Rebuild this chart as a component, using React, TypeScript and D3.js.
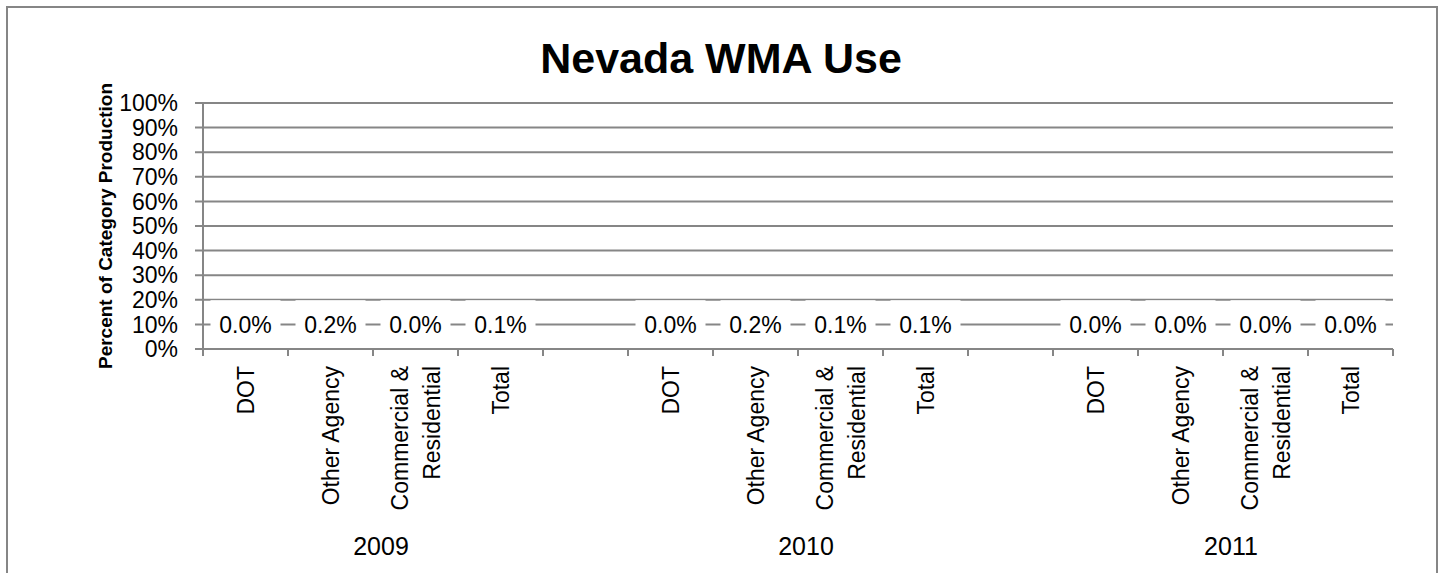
import * as d3 from 'd3';

const years = ['2009', '2010', '2011'];
const categories = ['DOT', 'Other Agency', 'Commercial & Residential', 'Total'];
const categoryLines = [['DOT'], ['Other Agency'], ['Commercial &', 'Residential'], ['Total']];
// percent of category production, one row per year
const wmaShare = [
  [0.0, 0.2, 0.0, 0.1],
  [0.0, 0.2, 0.1, 0.1],
  [0.0, 0.0, 0.0, 0.0],
];
const yTicks = [0, 10, 20, 30, 40, 50, 60, 70, 80, 90, 100];
const labelLevel = 10; // data labels sit on the 10% line in the original

const W = 1443;
const H = 573;
const grid = '#868686';
const font = '"Liberation Sans", Arial, sans-serif';

type Slot = { key: string; year: number; cat: number; value: number | null };

// four categories per year, with an empty slot between years
const slots: Slot[] = [];
years.forEach((yr, i) => {
  categories.forEach((c, j) => {
    slots.push({ key: `${yr}-${c}`, year: i, cat: j, value: wmaShare[i][j] });
  });
  if (i < years.length - 1) slots.push({ key: `${yr}-gap`, year: i, cat: -1, value: null });
});

export default function App() {
  const x = d3.scaleBand<string>().domain(slots.map((s) => s.key)).range([203, 1393]).padding(0);
  const y = d3.scaleLinear().domain([0, 100]).range([349, 103]);
  const bw = x.bandwidth();
  const [x0, x1] = x.range();
  const boxW = bw - 15;

  const bars = slots.filter((s) => s.value !== null);

  return (
    <svg width={W} height={H} style={{ position: 'absolute', left: 0, top: 0, background: '#fff' }}>
      {/* chart border */}
      <rect x={7} y={7} width={1430} height={H + 10} fill="#fff" stroke={grid} strokeWidth={2} />

      <text x={721} y={73} textAnchor="middle" fontFamily={font} fontWeight="bold" fontSize={43}>
        Nevada WMA Use
      </text>

      <text
        transform={`translate(112, ${(y(0) + y(100)) / 2}) rotate(-90)`}
        textAnchor="middle"
        fontFamily={font}
        fontWeight="bold"
        fontSize={19}
      >
        Percent of Category Production
      </text>

      {/* gridlines + y ticks */}
      {yTicks.map((t) => (
        <g key={t}>
          <line x1={x0 - 8} x2={x1} y1={y(t)} y2={y(t)} stroke={grid} strokeWidth={2} />
          <text
            x={178}
            y={y(t)}
            dy="0.36em"
            textAnchor="end"
            fontFamily={font}
            fontSize={23}
          >
            {t}%
          </text>
        </g>
      ))}

      {/* bars (near zero) */}
      {bars.map((s) => (
        <rect
          key={s.key}
          x={(x(s.key) ?? 0) + bw * 0.25}
          width={bw * 0.5}
          y={y(s.value as number)}
          height={y(0) - y(s.value as number)}
          fill="#4F81BD"
        />
      ))}

      {/* data labels */}
      {bars.map((s) => {
        const cx = (x(s.key) ?? 0) + bw / 2;
        return (
          <g key={`lab-${s.key}`}>
            <rect x={cx - boxW / 2} width={boxW} y={y(20) + 0.4} height={y(0) - y(20) - 1.6} fill="#fff" />
            <text x={cx} y={y(labelLevel)} dy="0.36em" textAnchor="middle" fontFamily={font} fontSize={23}>
              {(s.value as number).toFixed(1)}%
            </text>
          </g>
        );
      })}

      {/* axes */}
      <line x1={x0} x2={x0} y1={y(100)} y2={y(0)} stroke={grid} strokeWidth={2} />
      <line x1={x0 - 8} x2={x1} y1={y(0)} y2={y(0)} stroke={grid} strokeWidth={2} />
      {[...slots.map((s) => x(s.key) ?? 0), x1].map((tx, i) => (
        <line key={i} x1={tx} x2={tx} y1={y(0)} y2={y(0) + 7} stroke={grid} strokeWidth={2} />
      ))}

      {/* category labels */}
      {bars.map((s) => {
        const cx = (x(s.key) ?? 0) + bw / 2;
        const lines = categoryLines[s.cat];
        const lh = 32;
        return (
          <text
            key={`cat-${s.key}`}
            transform={`translate(${cx}, 366) rotate(-90)`}
            textAnchor="end"
            fontFamily={font}
            fontSize={23}
          >
            {lines.map((ln, k) => (
              <tspan key={k} x={0} y={8 + (k - (lines.length - 1) / 2) * lh}>
                {ln}
              </tspan>
            ))}
          </text>
        );
      })}

      {/* year labels */}
      {years.map((yr, i) => {
        const ks = slots.filter((s) => s.year === i && s.cat >= 0).map((s) => s.key);
        const gx = ((x(ks[0]) ?? 0) + (x(ks[ks.length - 1]) ?? 0) + bw) / 2;
        return (
          <text key={yr} x={gx + 8} y={555} textAnchor="middle" fontFamily={font} fontSize={25}>
            {yr}
          </text>
        );
      })}
    </svg>
  );
}
